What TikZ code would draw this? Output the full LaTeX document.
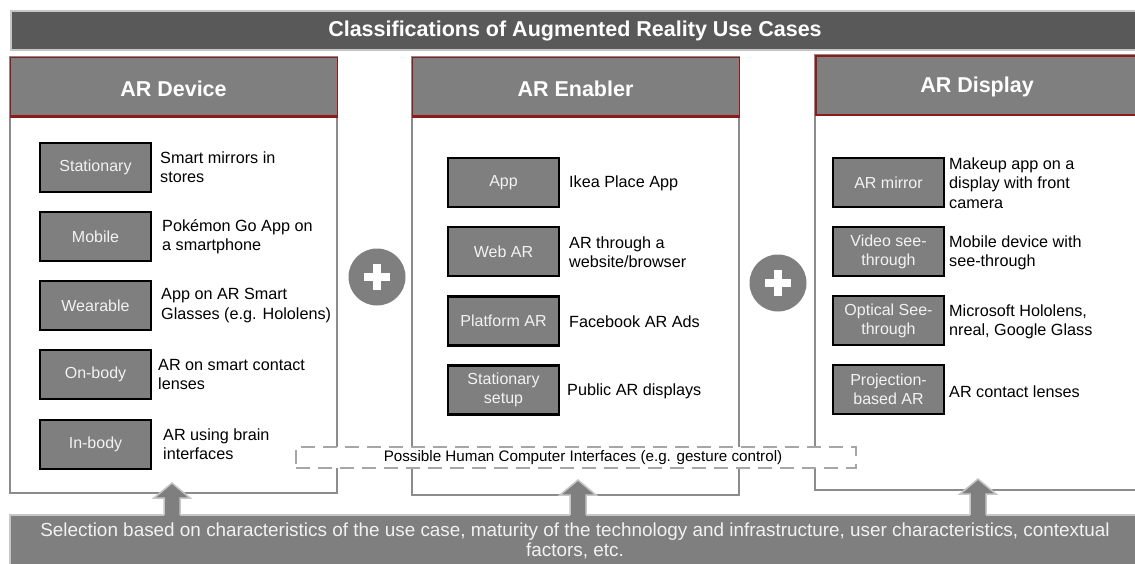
\documentclass[tikz,border=0pt]{standalone}
\usepackage{fontspec}
\setmainfont{Liberation Sans}
\definecolor{titlegray}{HTML}{595959}
\definecolor{midgray}{HTML}{7F7F7F}
\definecolor{bordergray}{HTML}{8C8C8C}
\definecolor{lightline}{HTML}{C6C6C6}
\definecolor{dashgray}{HTML}{A6A6A6}
\definecolor{darkred}{HTML}{8E1B1B}
\definecolor{labelwhite}{HTML}{F2F2F2}
\begin{document}
\begin{tikzpicture}[x=1pt,y=-1pt,
  panel/.style={draw=bordergray, line width=2pt, fill=white},
  headerbg/.style={fill=midgray, draw=darkred, line width=0.8pt},
  redline/.style={draw=darkred, line width=3pt},
  htext/.style={text=white, font=\bfseries\fontsize{21.5}{25}\selectfont, inner sep=0pt},
  itembox/.style={draw=black, line width=2.2pt, fill=midgray, minimum width=111pt, minimum height=49pt, inner sep=0pt, align=center, text=labelwhite, font=\fontsize{16}{19}\selectfont},
  desc/.style={anchor=west, align=left, inner sep=0pt, font=\fontsize{16.2}{19.3}\selectfont},
  plusdisk/.style={circle, fill=midgray, minimum size=57pt, inner sep=0pt},
  blockarrow/.style={fill=midgray},
  arrowedge/.style={draw=lightline, line width=1.5pt, line join=miter}
]
\useasboundingbox (0,0) rectangle (1135,564);
\clip (0,0) rectangle (1135,564);
\fill[white] (0,0) rectangle (1135,564);

% title bar
\draw[fill=titlegray, draw=lightline, line width=2pt] (11,11) rectangle (1145,50);
\node[htext] (title) at (575,31) {Classifications of Augmented Reality Use Cases};

% panels
\draw[panel] (10,57) rectangle (337,493);
\draw[headerbg] (10,57) rectangle (337,117);
\draw[redline] (10,117) -- (337,117);
\node[htext] (h1) at (173.5,88.5) {AR Device};

\draw[panel] (412,57) rectangle (739,495);
\draw[headerbg] (412,57) rectangle (739,117);
\draw[redline] (412,117) -- (739,117);
\node[htext] (h2) at (575.5,88.5) {AR Enabler};

\draw[panel] (815,55) rectangle (1145,490);
\draw[fill=midgray, draw=darkred, line width=2pt] (816,56) rectangle (1145,115);
\node[htext] (h3) at (977,86.5) {AR Display};

% AR Device items
\node[itembox] (d1) at (95.5,167.5) {Stationary};
\node[desc] (t1) at (160,167.5) {Smart mirrors in\\stores};
\node[itembox] (d2) at (95.5,236.5) {Mobile};
\node[desc] (t2) at (162,236.5) {Pokémon Go App on\\a smartphone};
\node[itembox] (d3) at (95.5,305.5) {Wearable};
\node[desc] (t3) at (161,305.5) {App on AR Smart\\Glasses (e.g. Hololens)};
\node[itembox] (d4) at (95.5,374.5) {On-body};
\node[desc] (t4) at (158,374.5) {AR on smart contact\\lenses};
\node[itembox] (d5) at (95.5,444.5) {In-body};
\node[desc] (t5) at (163,444.5) {AR using brain\\interfaces};

% AR Enabler items
\node[itembox] (e1) at (503.5,182.5) {App};
\node[desc] (u1) at (569,183.5) {Ikea Place App};
\node[itembox] (e2) at (503.5,251.5) {Web AR};
\node[desc] (u2) at (569,252.5) {AR through a\\website/browser};
\node[itembox] (e3) at (503.5,321) {Platform AR};
\node[desc] (u3) at (569,322) {Facebook AR Ads};
\node[itembox] (e4) at (503.5,390) {Stationary\\setup};
\node[desc] (u4) at (567,391.5) {Public AR displays};

% AR Display items
\node[itembox] (a1) at (888.5,182.5) {AR mirror};
\node[desc] (v1) at (949,183) {Makeup app on a\\display with front\\camera};
\node[itembox] (a2) at (888.5,251.5) {Video see-\\through};
\node[desc] (v2) at (949,252.5) {Mobile device with\\see-through};
\node[itembox] (a3) at (888.5,320.5) {Optical See-\\through};
\node[desc] (v3) at (949,321.5) {Microsoft Hololens,\\nreal, Google Glass};
\node[itembox] (a4) at (888.5,389.5) {Projection-\\based AR};
\node[desc] (v4) at (949,391.5) {AR contact lenses};

% plus signs
\node[plusdisk] (p1) at (377,277) {};
\fill[white] ([shift={(-13,-4)}]p1.center) rectangle ([shift={(13,4)}]p1.center);
\fill[white] ([shift={(-4,-13)}]p1.center) rectangle ([shift={(4,13)}]p1.center);
\node[plusdisk] (p2) at (778,283) {};
\fill[white] ([shift={(-13,-4)}]p2.center) rectangle ([shift={(13,4)}]p2.center);
\fill[white] ([shift={(-4,-13)}]p2.center) rectangle ([shift={(4,13)}]p2.center);

% dashed HCI box
\node[draw=dashgray, line width=2pt, dash pattern=on 14pt off 8pt, fill=white,
      minimum width=560pt, minimum height=21pt, inner sep=0pt] (hci) at (576,457.5) {};
\node[font=\fontsize{15.2}{18}\selectfont, inner sep=0pt] (hcit) at (583,457.5)
  {Possible Human Computer Interfaces (e.g. gesture control)};

% selection bar
\draw[fill=midgray, draw=lightline, line width=1.5pt] (10,515) rectangle (1150,580);
\node[text=labelwhite, align=center, font=\fontsize{18.9}{19.5}\selectfont, inner sep=0pt] (sel) at (575,541)
  {Selection based on characteristics of the use case, maturity of the technology and infrastructure, user characteristics, contextual\\factors, etc.};

% block arrows
\foreach \cx/\ty in {172/483, 578/480, 978/479} {
  \fill[blockarrow] (\cx,\ty) -- (\cx+18,\ty+15) -- (\cx+8,\ty+15) -- (\cx+8,516) -- (\cx-8,516) -- (\cx-8,\ty+15) -- (\cx-18,\ty+15) -- cycle;
  \draw[arrowedge] (\cx-8,515) -- (\cx-8,\ty+15) -- (\cx-18,\ty+15) -- (\cx,\ty) -- (\cx+18,\ty+15) -- (\cx+8,\ty+15) -- (\cx+8,515);
}
\end{tikzpicture}
\end{document}
